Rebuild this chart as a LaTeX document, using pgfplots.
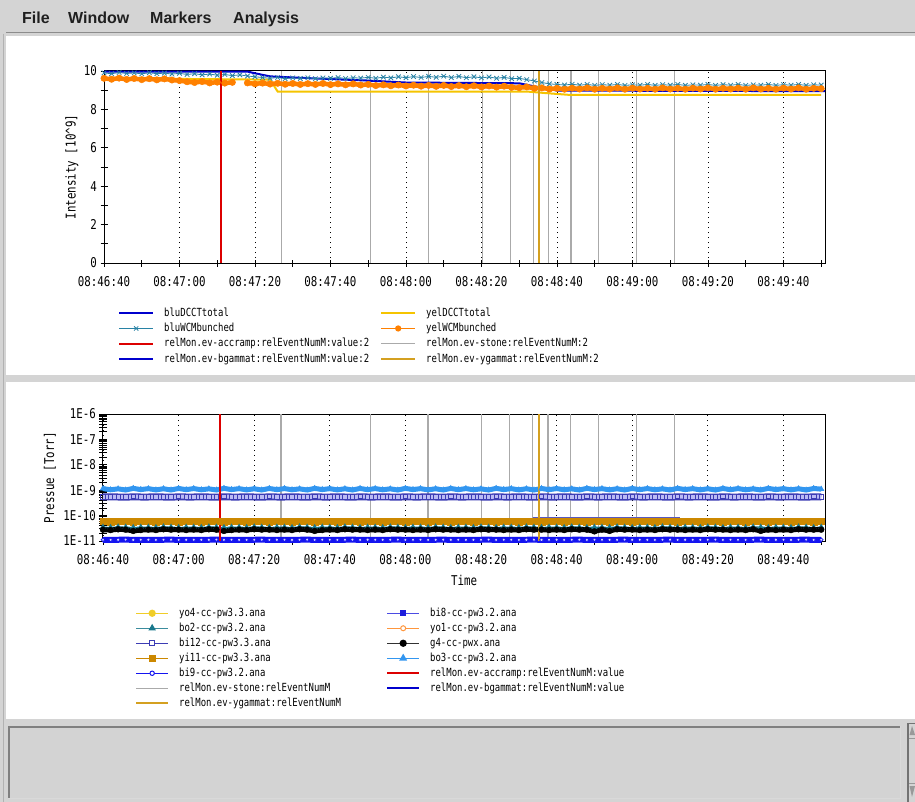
\documentclass[border=0pt]{standalone}
\usepackage{pgfplots}
\pgfplotsset{compat=1.18}
\usepackage{pgfplotstable}
\usepackage{fontspec}
\newfontfamily\monofam[FakeStretch=0.8]{DejaVu Sans Mono}
\newfontfamily\menufam{Liberation Sans}
\newcommand\tickfnt{\monofam\fontsize{13.5}{15}\selectfont}
\newcommand\legfnt{\monofam\fontsize{11.2}{12}\selectfont}
\newcommand\menufnt{\menufam\bfseries\fontsize{16}{18}\selectfont}
\newcommand\LT[1]{\hspace*{10pt}\makebox[216pt][l]{#1}}
\newcommand\RT[1]{\hspace*{10pt}#1}
\newcommand\LB[1]{\hspace*{10pt}\makebox[207pt][l]{#1}}

\definecolor{winGray}{RGB}{212,212,212}
\definecolor{boxGray}{RGB}{211,211,211}
\definecolor{cBlu}{RGB}{0,0,205}
\definecolor{cYel}{RGB}{245,196,0}
\definecolor{cTeal}{RGB}{40,130,165}
\definecolor{cOra}{RGB}{255,128,0}
\definecolor{cRed}{RGB}{220,0,0}
\definecolor{cGray}{RGB}{170,170,170}
\definecolor{cGold}{RGB}{212,160,32}
\definecolor{cLB}{RGB}{50,150,240}
\definecolor{cDB}{RGB}{60,60,180}
\definecolor{cB8}{RGB}{30,30,220}
\definecolor{cYi}{RGB}{204,136,0}
\definecolor{cYoF}{RGB}{240,205,40}
\definecolor{cYoO}{RGB}{255,150,60}
\definecolor{cBoT}{RGB}{25,120,140}
\definecolor{cBN}{RGB}{20,20,240}
\definecolor{cG4}{RGB}{50,50,50}

% intensity: t [s after 08:46:40], bluWCMbunched, yelWCMbunched
\pgfplotstableread{
t teal ora
0 9.90 9.62
2 9.86 9.57
4 9.92 9.63
6 9.87 9.56
8 9.90 9.61
10 9.85 9.55
12 9.91 9.60
14 9.86 9.54
16 9.89 9.59
18 9.84 9.53
20 9.88 9.50
22 9.82 9.44
24 9.86 9.40
26 9.80 9.45
28 9.84 9.38
30 9.78 9.42
32 9.82 9.37
34 9.76 9.41
36 9.80 nan
38 9.74 9.38
40 9.70 9.33
42 9.66 9.37
44 9.62 9.32
46 9.66 9.36
48 9.60 9.31
50 9.64 9.35
52 9.61 9.30
54 9.65 9.34
56 9.60 9.30
58 9.64 9.35
60 9.62 9.29
62 9.66 9.33
64 9.61 9.28
66 9.65 9.33
68 9.63 9.27
70 9.67 9.30
72 9.62 9.24
74 9.68 9.28
76 9.64 9.23
78 9.70 9.27
80 9.65 9.22
82 9.71 9.26
84 9.66 9.21
86 9.72 9.25
88 9.67 9.20
90 9.73 9.25
92 9.66 9.19
94 9.72 9.24
96 9.65 9.18
98 9.70 9.23
100 9.64 9.17
102 9.69 9.22
104 9.62 9.16
106 9.67 9.21
108 9.60 9.15
110 9.62 9.13
112 9.55 9.17
114 9.48 9.10
116 9.40 9.12
118 9.33 9.06
120 9.30 9.10
122 9.27 9.05
124 9.31 9.11
126 9.26 9.06
128 9.30 9.12
130 9.25 9.05
132 9.29 9.10
134 9.26 9.06
136 9.30 9.12
138 9.25 9.05
140 9.28 9.11
142 9.26 9.06
144 9.30 9.10
146 9.25 9.05
148 9.29 9.12
150 9.26 9.06
152 9.30 9.10
154 9.25 9.05
156 9.28 9.11
158 9.26 9.06
160 9.30 9.12
162 9.25 9.05
164 9.29 9.10
166 9.26 9.06
168 9.30 9.11
170 9.25 9.05
172 9.28 9.12
174 9.26 9.06
176 9.30 9.10
178 9.25 9.05
180 9.29 9.11
182 9.26 9.06
184 9.30 9.12
186 9.25 9.05
188 9.28 9.10
190 9.27 9.08
}\intens

% pressure [Torr]
\pgfplotstableread{
t bothree bieight bitwelve yieleven yofour yoone botwo gfour binine
0 1.16e-9 5.4e-10 5.5e-10 6.0e-11 5.7e-11 5.9e-11 3.5e-11 2.8e-11 1.12e-11
2 1.04e-9 5.5e-10 5.4e-10 5.9e-11 5.8e-11 5.9e-11 3.4e-11 2.7e-11 1.11e-11
4 1.13e-9 5.4e-10 5.5e-10 6.1e-11 5.6e-11 5.8e-11 3.6e-11 2.9e-11 1.12e-11
6 1.02e-9 5.3e-10 5.4e-10 6.0e-11 5.7e-11 5.9e-11 3.5e-11 2.8e-11 1.13e-11
8 1.18e-9 5.5e-10 5.6e-10 5.9e-11 5.8e-11 5.9e-11 3.4e-11 2.5e-11 1.11e-11
10 1.06e-9 5.4e-10 5.5e-10 6.0e-11 5.7e-11 5.9e-11 3.5e-11 2.7e-11 1.12e-11
12 1.15e-9 5.4e-10 5.5e-10 6.0e-11 5.7e-11 5.9e-11 3.5e-11 2.8e-11 1.12e-11
14 1.03e-9 5.5e-10 5.4e-10 5.9e-11 5.8e-11 5.9e-11 3.4e-11 2.7e-11 1.11e-11
16 1.14e-9 5.4e-10 5.5e-10 6.1e-11 5.6e-11 5.8e-11 3.6e-11 2.9e-11 1.12e-11
18 1.02e-9 5.3e-10 5.4e-10 6.0e-11 5.7e-11 5.9e-11 3.5e-11 2.8e-11 1.13e-11
20 1.17e-9 5.5e-10 5.6e-10 5.9e-11 5.8e-11 5.9e-11 3.4e-11 2.8e-11 1.11e-11
22 1.05e-9 5.4e-10 5.5e-10 6.0e-11 5.7e-11 5.9e-11 3.5e-11 2.7e-11 1.12e-11
24 1.16e-9 5.4e-10 5.5e-10 6.0e-11 5.7e-11 5.9e-11 3.5e-11 2.8e-11 1.12e-11
26 1.04e-9 5.5e-10 5.4e-10 5.9e-11 5.8e-11 5.9e-11 3.4e-11 2.7e-11 1.11e-11
28 1.13e-9 5.4e-10 5.5e-10 6.1e-11 5.6e-11 5.8e-11 3.6e-11 2.9e-11 1.12e-11
30 1.02e-9 5.3e-10 5.4e-10 6.0e-11 5.7e-11 5.9e-11 3.5e-11 2.8e-11 1.13e-11
32 1.18e-9 5.5e-10 5.6e-10 5.9e-11 5.8e-11 5.9e-11 3.4e-11 2.5e-11 1.11e-11
34 1.06e-9 5.4e-10 5.5e-10 6.0e-11 5.7e-11 5.9e-11 3.5e-11 2.7e-11 1.12e-11
36 1.15e-9 5.4e-10 5.5e-10 6.0e-11 5.7e-11 5.9e-11 3.5e-11 2.8e-11 1.12e-11
38 1.03e-9 5.5e-10 5.4e-10 5.9e-11 5.8e-11 5.9e-11 3.4e-11 2.7e-11 1.11e-11
40 1.14e-9 5.4e-10 5.5e-10 6.1e-11 5.6e-11 5.8e-11 3.6e-11 2.9e-11 1.12e-11
42 1.02e-9 5.3e-10 5.4e-10 6.0e-11 5.7e-11 5.9e-11 3.5e-11 2.8e-11 1.13e-11
44 1.17e-9 5.5e-10 5.6e-10 5.9e-11 5.8e-11 5.9e-11 3.4e-11 2.8e-11 1.11e-11
46 1.05e-9 5.4e-10 5.5e-10 6.0e-11 5.7e-11 5.9e-11 3.5e-11 2.7e-11 1.12e-11
48 1.16e-9 5.4e-10 5.5e-10 6.0e-11 5.7e-11 5.9e-11 3.5e-11 2.8e-11 1.12e-11
50 1.04e-9 5.5e-10 5.4e-10 5.9e-11 5.8e-11 5.9e-11 3.4e-11 2.7e-11 1.11e-11
52 1.13e-9 5.4e-10 5.5e-10 6.1e-11 5.6e-11 5.8e-11 3.6e-11 2.9e-11 1.12e-11
54 1.02e-9 5.3e-10 5.4e-10 6.0e-11 5.7e-11 5.9e-11 3.5e-11 2.8e-11 1.13e-11
56 1.18e-9 5.5e-10 5.6e-10 5.9e-11 5.8e-11 5.9e-11 3.4e-11 2.5e-11 1.11e-11
58 1.06e-9 5.4e-10 5.5e-10 6.0e-11 5.7e-11 5.9e-11 3.5e-11 2.7e-11 1.12e-11
60 1.15e-9 5.4e-10 5.5e-10 6.0e-11 5.7e-11 5.9e-11 3.5e-11 2.8e-11 1.12e-11
62 1.03e-9 5.5e-10 5.4e-10 5.9e-11 5.8e-11 5.9e-11 3.4e-11 2.7e-11 1.11e-11
64 1.14e-9 5.4e-10 5.5e-10 6.1e-11 5.6e-11 5.8e-11 3.6e-11 2.9e-11 1.12e-11
66 1.02e-9 5.3e-10 5.4e-10 6.0e-11 5.7e-11 5.9e-11 3.5e-11 2.8e-11 1.13e-11
68 1.17e-9 5.5e-10 5.6e-10 5.9e-11 5.8e-11 5.9e-11 3.4e-11 2.8e-11 1.11e-11
70 1.05e-9 5.4e-10 5.5e-10 6.0e-11 5.7e-11 5.9e-11 3.5e-11 2.7e-11 1.12e-11
72 1.16e-9 5.4e-10 5.5e-10 6.0e-11 5.7e-11 5.9e-11 3.5e-11 2.8e-11 1.12e-11
74 1.04e-9 5.5e-10 5.4e-10 5.9e-11 5.8e-11 5.9e-11 3.4e-11 2.7e-11 1.11e-11
76 1.13e-9 5.4e-10 5.5e-10 6.1e-11 5.6e-11 5.8e-11 3.6e-11 2.9e-11 1.12e-11
78 1.02e-9 5.3e-10 5.4e-10 6.0e-11 5.7e-11 5.9e-11 3.5e-11 2.8e-11 1.13e-11
80 1.18e-9 5.5e-10 5.6e-10 5.9e-11 5.8e-11 5.9e-11 3.4e-11 2.8e-11 1.11e-11
82 1.06e-9 5.4e-10 5.5e-10 6.0e-11 5.7e-11 5.9e-11 3.5e-11 2.7e-11 1.12e-11
84 1.15e-9 5.4e-10 5.5e-10 6.0e-11 5.7e-11 5.9e-11 3.5e-11 2.8e-11 1.12e-11
86 1.03e-9 5.5e-10 5.4e-10 5.9e-11 5.8e-11 5.9e-11 3.4e-11 2.7e-11 1.11e-11
88 1.14e-9 5.4e-10 5.5e-10 6.1e-11 5.6e-11 5.8e-11 3.6e-11 2.9e-11 1.12e-11
90 1.02e-9 5.3e-10 5.4e-10 6.0e-11 5.7e-11 5.9e-11 3.5e-11 2.8e-11 1.13e-11
92 1.17e-9 5.5e-10 5.6e-10 5.9e-11 5.8e-11 5.9e-11 3.4e-11 2.8e-11 1.11e-11
94 1.05e-9 5.4e-10 5.5e-10 6.0e-11 5.7e-11 5.9e-11 3.5e-11 2.7e-11 1.12e-11
96 1.16e-9 5.4e-10 5.5e-10 6.0e-11 5.7e-11 5.9e-11 3.5e-11 2.8e-11 1.12e-11
98 1.04e-9 5.5e-10 5.4e-10 5.9e-11 5.8e-11 5.9e-11 3.4e-11 2.7e-11 1.11e-11
100 1.13e-9 5.4e-10 5.5e-10 6.1e-11 5.6e-11 5.8e-11 3.6e-11 2.9e-11 1.12e-11
102 1.02e-9 5.3e-10 5.4e-10 6.0e-11 5.7e-11 5.9e-11 3.5e-11 2.8e-11 1.13e-11
104 1.18e-9 5.5e-10 5.6e-10 5.9e-11 5.8e-11 5.9e-11 3.4e-11 2.8e-11 1.11e-11
106 1.06e-9 5.4e-10 5.5e-10 6.0e-11 5.7e-11 5.9e-11 3.5e-11 2.7e-11 1.12e-11
108 1.15e-9 5.4e-10 5.5e-10 6.0e-11 5.7e-11 5.9e-11 3.5e-11 2.8e-11 1.12e-11
110 1.03e-9 5.5e-10 5.4e-10 5.9e-11 5.8e-11 5.9e-11 3.4e-11 2.7e-11 1.11e-11
112 1.14e-9 5.4e-10 5.5e-10 6.1e-11 5.6e-11 5.8e-11 3.6e-11 2.9e-11 1.12e-11
114 1.02e-9 5.3e-10 5.4e-10 6.0e-11 5.7e-11 5.9e-11 3.5e-11 2.8e-11 1.13e-11
116 1.17e-9 5.5e-10 5.6e-10 5.9e-11 5.8e-11 5.9e-11 3.4e-11 2.8e-11 1.11e-11
118 1.05e-9 5.4e-10 5.5e-10 6.0e-11 5.7e-11 5.9e-11 3.5e-11 2.7e-11 1.12e-11
120 1.16e-9 5.4e-10 5.5e-10 6.0e-11 5.7e-11 5.9e-11 3.5e-11 2.8e-11 1.12e-11
122 1.04e-9 5.5e-10 5.4e-10 5.9e-11 5.8e-11 5.9e-11 3.4e-11 2.7e-11 1.11e-11
124 1.13e-9 5.4e-10 5.5e-10 6.1e-11 5.6e-11 5.8e-11 3.6e-11 2.9e-11 1.12e-11
126 1.02e-9 5.3e-10 5.4e-10 6.0e-11 5.7e-11 5.9e-11 3.5e-11 2.8e-11 1.13e-11
128 1.18e-9 5.5e-10 5.6e-10 5.9e-11 5.8e-11 5.9e-11 3.4e-11 2.8e-11 1.11e-11
130 1.06e-9 5.4e-10 5.5e-10 6.0e-11 5.7e-11 5.9e-11 3.5e-11 2.4e-11 1.12e-11
132 1.15e-9 5.4e-10 5.5e-10 6.0e-11 5.7e-11 5.9e-11 3.5e-11 2.8e-11 1.12e-11
134 1.03e-9 5.5e-10 5.4e-10 5.9e-11 5.8e-11 5.9e-11 3.4e-11 2.5e-11 1.11e-11
136 1.14e-9 5.4e-10 5.5e-10 6.1e-11 5.6e-11 5.8e-11 3.6e-11 2.9e-11 1.12e-11
138 1.02e-9 5.3e-10 5.4e-10 6.0e-11 5.7e-11 5.9e-11 3.5e-11 2.8e-11 1.13e-11
140 1.17e-9 5.5e-10 5.6e-10 5.9e-11 5.8e-11 5.9e-11 3.4e-11 2.8e-11 1.11e-11
142 1.05e-9 5.4e-10 5.5e-10 6.0e-11 5.7e-11 5.9e-11 3.5e-11 2.7e-11 1.12e-11
144 1.16e-9 5.4e-10 5.5e-10 6.0e-11 5.7e-11 5.9e-11 3.5e-11 2.8e-11 1.12e-11
146 1.04e-9 5.5e-10 5.4e-10 5.9e-11 5.8e-11 5.9e-11 3.4e-11 2.7e-11 1.11e-11
148 1.13e-9 5.4e-10 5.5e-10 6.1e-11 5.6e-11 5.8e-11 3.6e-11 2.9e-11 1.12e-11
150 1.02e-9 5.3e-10 5.4e-10 6.0e-11 5.7e-11 5.9e-11 3.5e-11 2.8e-11 1.13e-11
152 1.18e-9 5.5e-10 5.6e-10 5.9e-11 5.8e-11 5.9e-11 3.4e-11 2.8e-11 1.11e-11
154 1.06e-9 5.4e-10 5.5e-10 6.0e-11 5.7e-11 5.9e-11 3.5e-11 2.7e-11 1.12e-11
156 1.15e-9 5.4e-10 5.5e-10 6.0e-11 5.7e-11 5.9e-11 3.5e-11 2.8e-11 1.12e-11
158 1.03e-9 5.5e-10 5.4e-10 5.9e-11 5.8e-11 5.9e-11 3.4e-11 2.7e-11 1.11e-11
160 1.14e-9 5.4e-10 5.5e-10 6.1e-11 5.6e-11 5.8e-11 3.6e-11 2.9e-11 1.12e-11
162 1.02e-9 5.3e-10 5.4e-10 6.0e-11 5.7e-11 5.9e-11 3.5e-11 2.8e-11 1.13e-11
164 1.17e-9 5.5e-10 5.6e-10 5.9e-11 5.8e-11 5.9e-11 3.4e-11 2.8e-11 1.11e-11
166 1.05e-9 5.4e-10 5.5e-10 6.0e-11 5.7e-11 5.9e-11 3.5e-11 2.7e-11 1.12e-11
168 1.16e-9 5.4e-10 5.5e-10 6.0e-11 5.7e-11 5.9e-11 3.5e-11 2.8e-11 1.12e-11
170 1.04e-9 5.5e-10 5.4e-10 5.9e-11 5.8e-11 5.9e-11 3.4e-11 2.7e-11 1.11e-11
172 1.13e-9 5.4e-10 5.5e-10 6.1e-11 5.6e-11 5.8e-11 3.6e-11 2.9e-11 1.12e-11
174 1.02e-9 5.3e-10 5.4e-10 6.0e-11 5.7e-11 5.9e-11 3.5e-11 2.5e-11 1.13e-11
176 1.18e-9 5.5e-10 5.6e-10 5.9e-11 5.8e-11 5.9e-11 3.4e-11 2.8e-11 1.11e-11
178 1.06e-9 5.4e-10 5.5e-10 6.0e-11 5.7e-11 5.9e-11 3.5e-11 2.7e-11 1.12e-11
180 1.15e-9 5.4e-10 5.5e-10 6.0e-11 5.7e-11 5.9e-11 3.5e-11 2.8e-11 1.12e-11
182 1.03e-9 5.5e-10 5.4e-10 5.9e-11 5.8e-11 5.9e-11 3.4e-11 2.7e-11 1.11e-11
184 1.14e-9 5.4e-10 5.5e-10 6.1e-11 5.6e-11 5.8e-11 3.6e-11 2.9e-11 1.12e-11
186 1.02e-9 5.3e-10 5.4e-10 6.0e-11 5.7e-11 5.9e-11 3.5e-11 2.8e-11 1.13e-11
188 1.17e-9 5.5e-10 5.6e-10 5.9e-11 5.8e-11 5.9e-11 3.4e-11 2.8e-11 1.11e-11
190 1.10e-9 5.4e-10 5.5e-10 6.0e-11 5.7e-11 5.9e-11 3.5e-11 2.8e-11 1.12e-11
}\press

\pgfplotsset{
  rhic/.style={
    scale only axis, clip=false,
    xmin=0, xmax=191,
    xtick={0,20,40,60,80,100,120,140,160,180},
    minor xtick={10,30,50,70,90,110,130,150,170,190},
    xticklabels={08:46:40,08:47:00,08:47:20,08:47:40,08:48:00,08:48:20,08:48:40,08:49:00,08:49:20,08:49:40},
    xtick pos=bottom, ytick pos=left,
    tick align=center, major tick length=7pt, minor tick length=7pt,
    tick style={black, line width=0.8pt},
    axis line style={black, line width=1pt},
    xmajorgrids,
    major x grid style={black, line width=0.9pt, dash pattern=on 0.9pt off 4.1pt},
    ticklabel style={font=\tickfnt, text=black},
    xticklabel style={yshift=-6pt},
    label style={font=\tickfnt, text=black},
    unbounded coords=jump,
    legend columns=2,
    legend cell align=left,
    legend style={draw=none, fill=none, inner sep=0pt, column sep=0pt, row sep=3.3pt,
      font=\legfnt, anchor=north west,
      nodes={inner sep=0pt, text height=9pt, text depth=3pt}},
  },
}

\begin{document}
\begin{tikzpicture}[x=1pt,y=1pt]
% window chrome
\fill[winGray] (0,0) rectangle (915,-802);
\draw[black!45, line width=1.5pt] (6,-32.5) -- (915,-32.5);
\draw[black!30, line width=1pt] (3.5,-34) -- (3.5,-802);
\fill[white] (6,-36) rectangle (915,-375);
\fill[white] (6,-382) rectangle (915,-719);
\fill[boxGray] (8,-726) rectangle (900,-798);
\draw[black!50, line width=1.6pt] (8.8,-798) -- (8.8,-726.8) -- (900,-726.8);
\draw[white!85!black, line width=1pt] (900,-726) -- (900,-798) -- (8,-798);
\draw[black!55, line width=1.5pt] (908,-802) -- (908,-723.5) -- (915,-723.5);
\fill[black!40] (912,-726) -- (915,-735) -- (909.5,-735) -- cycle;
\fill[black!40] (912,-797) -- (915,-786) -- (909.5,-786) -- cycle;
\draw[black!40] (909,-738) -- (915,-738);
\draw[black!40] (909,-783) -- (915,-783);
\node[anchor=base west, font=\menufnt, text=black!88, inner sep=0pt] at (22,-24) {File};
\node[anchor=base west, font=\menufnt, text=black!88, inner sep=0pt] at (68,-24) {Window};
\node[anchor=base west, font=\menufnt, text=black!88, inner sep=0pt] at (150,-24) {Markers};
\node[anchor=base west, font=\menufnt, text=black!88, inner sep=0pt] at (233,-24) {Analysis};

% ---------------- intensity panel ----------------
\begin{axis}[rhic,
  at={(104pt,-263pt)}, anchor=south west,
  width=721pt, height=192pt,
  ymin=0, ymax=10,
  ytick={0,2,4,6,8,10}, yticklabels={0,2,4,6,8,10},
  minor ytick={1,3,5,7,9},
  ylabel={Intensity [10\textasciicircum 9]},
  ylabel style={at={(axis description cs:-0.0444,0.5)}, anchor=center},
  legend style={at={(axis description cs:0.0194,-0.229)}},
  legend image code/.code={\draw[mark repeat=2,mark phase=2,#1] plot coordinates {(0pt,0pt) (17pt,0pt) (34pt,0pt)};},
]
% legend
\addlegendimage{cBlu, line width=2pt}
\addlegendentry{\LT{bluDCCTtotal}}
\addlegendimage{cYel, line width=2pt}
\addlegendentry{\RT{yelDCCTtotal}}
\addlegendimage{cTeal, line width=1pt, mark=x, mark size=3pt, mark options={line width=0.8pt}}
\addlegendentry{\LT{bluWCMbunched}}
\addlegendimage{cOra, line width=1pt, mark=*, mark size=2.6pt}
\addlegendentry{\RT{yelWCMbunched}}
\addlegendimage{cRed, line width=2pt}
\addlegendentry{\LT{relMon.ev-accramp:relEventNumM:value:2}}
\addlegendimage{cGray, line width=1pt}
\addlegendentry{\RT{relMon.ev-stone:relEventNumM:2}}
\addlegendimage{cBlu, line width=2pt}
\addlegendentry{\LT{relMon.ev-bgammat:relEventNumM:value:2}}
\addlegendimage{cGold, line width=2pt}
\addlegendentry{\RT{relMon.ev-ygammat:relEventNumM:2}}
% stone events
\addplot[cGray, line width=1.2pt, forget plot] coordinates {(47.1,0) (47.1,10)};
\addplot[cGray, line width=1.2pt, forget plot] coordinates {(70.7,0) (70.7,10)};
\addplot[cGray, line width=1.2pt, forget plot] coordinates {(86.0,0) (86.0,10)};
\addplot[cGray, line width=1.2pt, forget plot] coordinates {(100.2,0) (100.2,10)};
\addplot[cGray, line width=1.2pt, forget plot] coordinates {(107.6,0) (107.6,10)};
\addplot[cGray, line width=1.2pt, forget plot] coordinates {(113.7,0) (113.7,10)};
\addplot[cGray, line width=1.2pt, forget plot] coordinates {(117.7,0) (117.7,10)};
\addplot[cGray, line width=1.2pt, forget plot] coordinates {(123.7,0) (123.7,10)};
\addplot[cGray, line width=1.2pt, forget plot] coordinates {(131.0,0) (131.0,10)};
\addplot[cGray, line width=1.2pt, forget plot] coordinates {(141.1,0) (141.1,10)};
\addplot[cGray, line width=1.2pt, forget plot] coordinates {(151.1,0) (151.1,10)};
% DCCT totals
\addplot[cYel, line width=2pt, forget plot] coordinates {(0,9.62) (44,9.55) (46,8.93) (112,8.93) (117,8.85) (123,8.76) (190,8.76)};
\addplot[cBlu, line width=2pt, forget plot] coordinates {(0,9.97) (38,9.97) (40,9.88) (44,9.72) (55,9.62) (70,9.50) (80,9.40) (110,9.36) (114,9.20) (120,8.98) (191,8.95)};
% WCM bunched
\addplot[cTeal, line width=0.8pt, mark=x, mark size=3.2pt, mark options={line width=0.8pt}, forget plot] table[x=t, y=teal] {\intens};
\addplot[cOra, line width=4.5pt, mark=*, mark size=3.2pt, mark options={line width=0.5pt}, forget plot] table[x=t, y=ora] {\intens};
% accramp & ygammat events
\addplot[cRed, line width=2pt, forget plot] coordinates {(30.9,0) (30.9,10)};
\addplot[cGold, line width=2pt, forget plot] coordinates {(115.3,0) (115.3,10)};
\end{axis}

% ---------------- pressure panel ----------------
\begin{axis}[rhic,
  at={(103pt,-541pt)}, anchor=south west,
  width=722pt, height=127pt,
  ymode=log, ymin=1e-11, ymax=1e-6,
  ytick={1e-11,1e-10,1e-9,1e-8,1e-7,1e-6},
  yticklabels={1E-11,1E-10,1E-9,1E-8,1E-7,1E-6},
  minor ytick={2e-11,3e-11,4e-11,5e-11,6e-11,7e-11,8e-11,9e-11,2e-10,3e-10,4e-10,5e-10,6e-10,7e-10,8e-10,9e-10,2e-9,3e-9,4e-9,5e-9,6e-9,7e-9,8e-9,9e-9,2e-8,3e-8,4e-8,5e-8,6e-8,7e-8,8e-8,9e-8,2e-7,3e-7,4e-7,5e-7,6e-7,7e-7,8e-7,9e-7},
  ylabel={Pressue [Torr]},
  ylabel style={at={(axis description cs:-0.0734,0.5)}, anchor=center},
  xlabel={Time},
  xlabel style={at={(axis description cs:0.5,-0.307)}, anchor=center, yshift=0pt},
  legend style={at={(axis description cs:0.0443,-0.52)}, row sep=3pt},
  legend image code/.code={\draw[mark repeat=2,mark phase=2,#1] plot coordinates {(0pt,0pt) (16pt,0pt) (32pt,0pt)};},
]
% legend
\addlegendimage{cYoF, line width=1.2pt, mark=*, mark size=3pt}
\addlegendentry{\LB{yo4-cc-pw3.3.ana}}
\addlegendimage{cB8!80!white, line width=1.2pt, mark=square*, mark size=2.6pt, mark options={fill=cB8, draw=cB8}}
\addlegendentry{\RT{bi8-cc-pw3.2.ana}}
\addlegendimage{cBoT!85!white, line width=1.2pt, mark=triangle*, mark size=3.2pt, mark options={fill=cBoT, draw=cBoT}}
\addlegendentry{\LB{bo2-cc-pw3.2.ana}}
\addlegendimage{cYoO, line width=1.2pt, mark=*, mark size=2.5pt, mark options={fill=white, line width=1pt}}
\addlegendentry{\RT{yo1-cc-pw3.2.ana}}
\addlegendimage{cDB, line width=1.2pt, mark=square*, mark size=2.6pt, mark options={fill=white, line width=1pt}}
\addlegendentry{\LB{bi12-cc-pw3.3.ana}}
\addlegendimage{cG4, line width=1.2pt, mark=*, mark size=3pt, mark options={fill=black, draw=black}}
\addlegendentry{\RT{g4-cc-pwx.ana}}
\addlegendimage{cYi, line width=1.2pt, mark=square*, mark size=3pt}
\addlegendentry{\LB{yi11-cc-pw3.3.ana}}
\addlegendimage{cLB, line width=1.2pt, mark=triangle*, mark size=3.4pt}
\addlegendentry{\RT{bo3-cc-pw3.2.ana}}
\addlegendimage{cBN, line width=1.2pt, mark=*, mark size=2.2pt, mark options={fill=white, line width=1pt}}
\addlegendentry{\LB{bi9-cc-pw3.2.ana}}
\addlegendimage{cRed, line width=2pt}
\addlegendentry{\RT{relMon.ev-accramp:relEventNumM:value}}
\addlegendimage{cGray, line width=1pt}
\addlegendentry{\LB{relMon.ev-stone:relEventNumM}}
\addlegendimage{cBlu, line width=2pt}
\addlegendentry{\RT{relMon.ev-bgammat:relEventNumM:value}}
\addlegendimage{cGold, line width=2pt}
\addlegendentry{\LB{relMon.ev-ygammat:relEventNumM}}
% stone events
\addplot[cGray, line width=1.2pt, forget plot] coordinates {(47.1,1e-11) (47.1,1e-6)};
\addplot[cGray, line width=1.2pt, forget plot] coordinates {(70.7,1e-11) (70.7,1e-6)};
\addplot[cGray, line width=1.2pt, forget plot] coordinates {(86.0,1e-11) (86.0,1e-6)};
\addplot[cGray, line width=1.2pt, forget plot] coordinates {(100.2,1e-11) (100.2,1e-6)};
\addplot[cGray, line width=1.2pt, forget plot] coordinates {(107.6,1e-11) (107.6,1e-6)};
\addplot[cGray, line width=1.2pt, forget plot] coordinates {(113.7,1e-11) (113.7,1e-6)};
\addplot[cGray, line width=1.2pt, forget plot] coordinates {(117.7,1e-11) (117.7,1e-6)};
\addplot[cGray, line width=1.2pt, forget plot] coordinates {(123.7,1e-11) (123.7,1e-6)};
\addplot[cGray, line width=1.2pt, forget plot] coordinates {(131.0,1e-11) (131.0,1e-6)};
\addplot[cGray, line width=1.2pt, forget plot] coordinates {(141.1,1e-11) (141.1,1e-6)};
\addplot[cGray, line width=1.2pt, forget plot] coordinates {(151.1,1e-11) (151.1,1e-6)};
% gauges
\addplot[cLB, line width=5pt, mark=triangle*, mark size=3.2pt, mark options={line width=0.4pt}, forget plot] table[x=t, y=bothree] {\press};
\addplot[cDB, line width=7pt, forget plot] table[x=t, y=bieight] {\press};
\addplot[cB8!30!white, line width=4pt, mark=square, mark size=2.2pt, mark options={draw=cDB, line width=0.7pt}, forget plot] table[x=t, y=bitwelve] {\press};
\addplot[cYoF, line width=0.7pt, mark=*, mark size=3pt, forget plot] table[x=t, y=yofour] {\press};
\addplot[cYoO, line width=0.7pt, mark=o, mark size=3pt, forget plot] table[x=t, y=yoone] {\press};
\addplot[cYi, line width=6pt, mark=square*, mark size=3.3pt, mark options={line width=0.3pt}, forget plot] table[x=t, y=yieleven] {\press};
\addplot[cBoT, line width=1.2pt, mark=triangle*, mark size=2.5pt, forget plot] table[x=t, y=botwo] {\press};
\addplot[black, line width=5pt, mark=*, mark size=3pt, mark options={line width=0.3pt}, forget plot] table[x=t, y=gfour] {\press};
\addplot[cBN, line width=6pt, mark=*, mark size=1.9pt, mark options={fill=blue!15!white, draw=cBN, line width=0.7pt}, forget plot] table[x=t, y=binine] {\press};
\addplot[cDB!85!white, line width=1pt, forget plot] coordinates {(113.7,8.3e-11) (152.6,8.3e-11)};
% accramp & ygammat events
\addplot[cRed, line width=2pt, forget plot] coordinates {(30.9,1e-11) (30.9,1e-6)};
\addplot[cGold, line width=2pt, forget plot] coordinates {(115.3,1e-11) (115.3,1e-6)};
\end{axis}

\pgfresetboundingbox
\path[use as bounding box] (0,0) rectangle (915,-802);
\end{tikzpicture}
\end{document}
